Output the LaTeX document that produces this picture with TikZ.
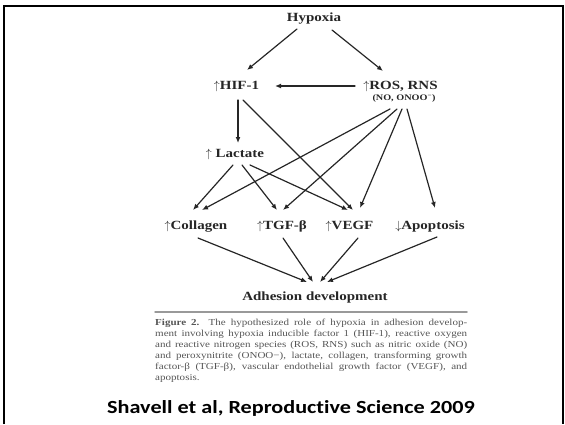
\documentclass[tikz,border=0pt]{standalone}
\usepackage{fontspec}
\newfontfamily\figfont[FakeStretch=1.2]{Liberation Serif}
\newfontfamily\citefont[FakeStretch=1.2,Ligatures=NoCommon]{Carlito}
\usetikzlibrary{calc,arrows.meta}
\definecolor{captiongray}{HTML}{555555}
\definecolor{rulegray}{HTML}{999999}
\newcommand{\uparr}{\ensuremath{\uparrow}}
\newcommand{\downarr}{\ensuremath{\downarrow}}
\newcommand{\capline}[1]{\makebox[312pt][s]{#1}}

\begin{document}
\begin{tikzpicture}[x=1pt,y=-1pt,line cap=round,line join=round,>={Latex[length=6pt,width=5pt]},
  lbl/.style={anchor=base,inner sep=0pt,text=black!85,
    font=\figfont\bfseries\fontsize{12.5}{14}\selectfont},
  arr/.style={->,line width=1.2pt,black!85}]
  \useasboundingbox (0,0) rectangle (565,424);
  \draw[line width=2.4pt,line cap=butt,line join=miter] (4,424) -- (4,6) -- (563,6) -- (563,424);
  % labels
  \node[lbl] (hyp) at (314,21) {Hypoxia};
  \node[lbl] (hif) at (236.5,89) {\uparr HIF-1};
  \node[lbl] (ros) at (400.5,89) {\uparr ROS, RNS};
  \node[lbl,font=\figfont\bfseries\fontsize{8.5}{10}\selectfont] (rossub) at (404,100) {(NO, ONOO\textsuperscript{−})};
  \node[lbl] (lac) at (235,157) {\uparr\ Lactate};
  \node[lbl] (col) at (196,229) {\uparr Collagen};
  \node[lbl] (tgf) at (282,229) {\uparr TGF-β};
  \node[lbl] (vegf) at (349.5,229) {\uparr VEGF};
  \node[lbl] (apo) at (430,229) {\downarr Apoptosis};
  \node[lbl] (adh) at (315,300) {Adhesion development};
  % arrows
  \draw[arr] ($(hyp.base)+(-17,8)$) -- ($(hif.base)+(10.5,-19)$);
  \draw[arr] ($(hyp.base)+(18,9)$) -- ($(ros.base)+(-17.5,-18)$);
  \draw[arr] ($(ros.base)+(-45.5,-3)$) -- ($(hif.base)+(38.5,-3)$);
  \draw[arr] ($(hif.base)+(1.5,11)$) -- ($(lac.base)+(3,-14)$);
  \draw[arr] ($(hif.base)+(6.5,11)$) -- ($(vegf.base)+(3.5,-19)$);
  \draw[arr] ($(rossub.base)+(-14,9)$) -- ($(col.base)+(6,-19)$);
  \draw[arr] ($(rossub.base)+(-7,9)$) -- ($(tgf.base)+(1,-19)$);
  \draw[arr] ($(rossub.base)+(-2,9)$) -- ($(vegf.base)+(10.5,-21)$);
  \draw[arr] ($(rossub.base)+(3,9)$) -- ($(apo.base)+(5,-21)$);
  \draw[arr] ($(lac.base)+(-2,8)$) -- ($(col.base)+(-3,-19)$);
  \draw[arr] ($(lac.base)+(7,8)$) -- ($(tgf.base)+(-5,-19)$);
  \draw[arr] ($(lac.base)+(15,8)$) -- ($(vegf.base)+(-1.5,-19)$);
  \draw[arr] ($(col.base)+(2,9)$) -- ($(adh.base)+(-8,-18)$);
  \draw[arr] ($(tgf.base)+(1,9)$) -- ($(adh.base)+(-2,-18)$);
  \draw[arr] ($(vegf.base)+(8.5,9)$) -- ($(adh.base)+(5,-18)$);
  \draw[arr] ($(apo.base)+(7,8)$) -- ($(adh.base)+(12,-18)$);
  % caption
  \draw[rulegray,line width=1.5pt] (155,312) -- (467,312);
  \node[anchor=north west,inner sep=0pt,align=left,text=captiongray,
    font=\figfont\fontsize{9.2}{11}\selectfont] (cap) at (155,318.5) {%
    \capline{\textbf{Figure 2.}\quad The hypothesized role of hypoxia in adhesion develop-}\\
    \capline{ment involving hypoxia inducible factor 1 (HIF-1), reactive oxygen}\\
    \capline{and reactive nitrogen species (ROS, RNS) such as nitric oxide (NO)}\\
    \capline{and peroxynitrite (ONOO−), lactate, collagen, transforming growth}\\
    \capline{factor-β (TGF-β), vascular endothelial growth factor (VEGF), and}\\
    apoptosis.};
  \node[anchor=base,inner sep=0pt,font=\citefont\bfseries\fontsize{18.5}{22}\selectfont] (cite) at (291,413.5) {Shavell et al, Reproductive Science 2009};
\end{tikzpicture}
\end{document}
